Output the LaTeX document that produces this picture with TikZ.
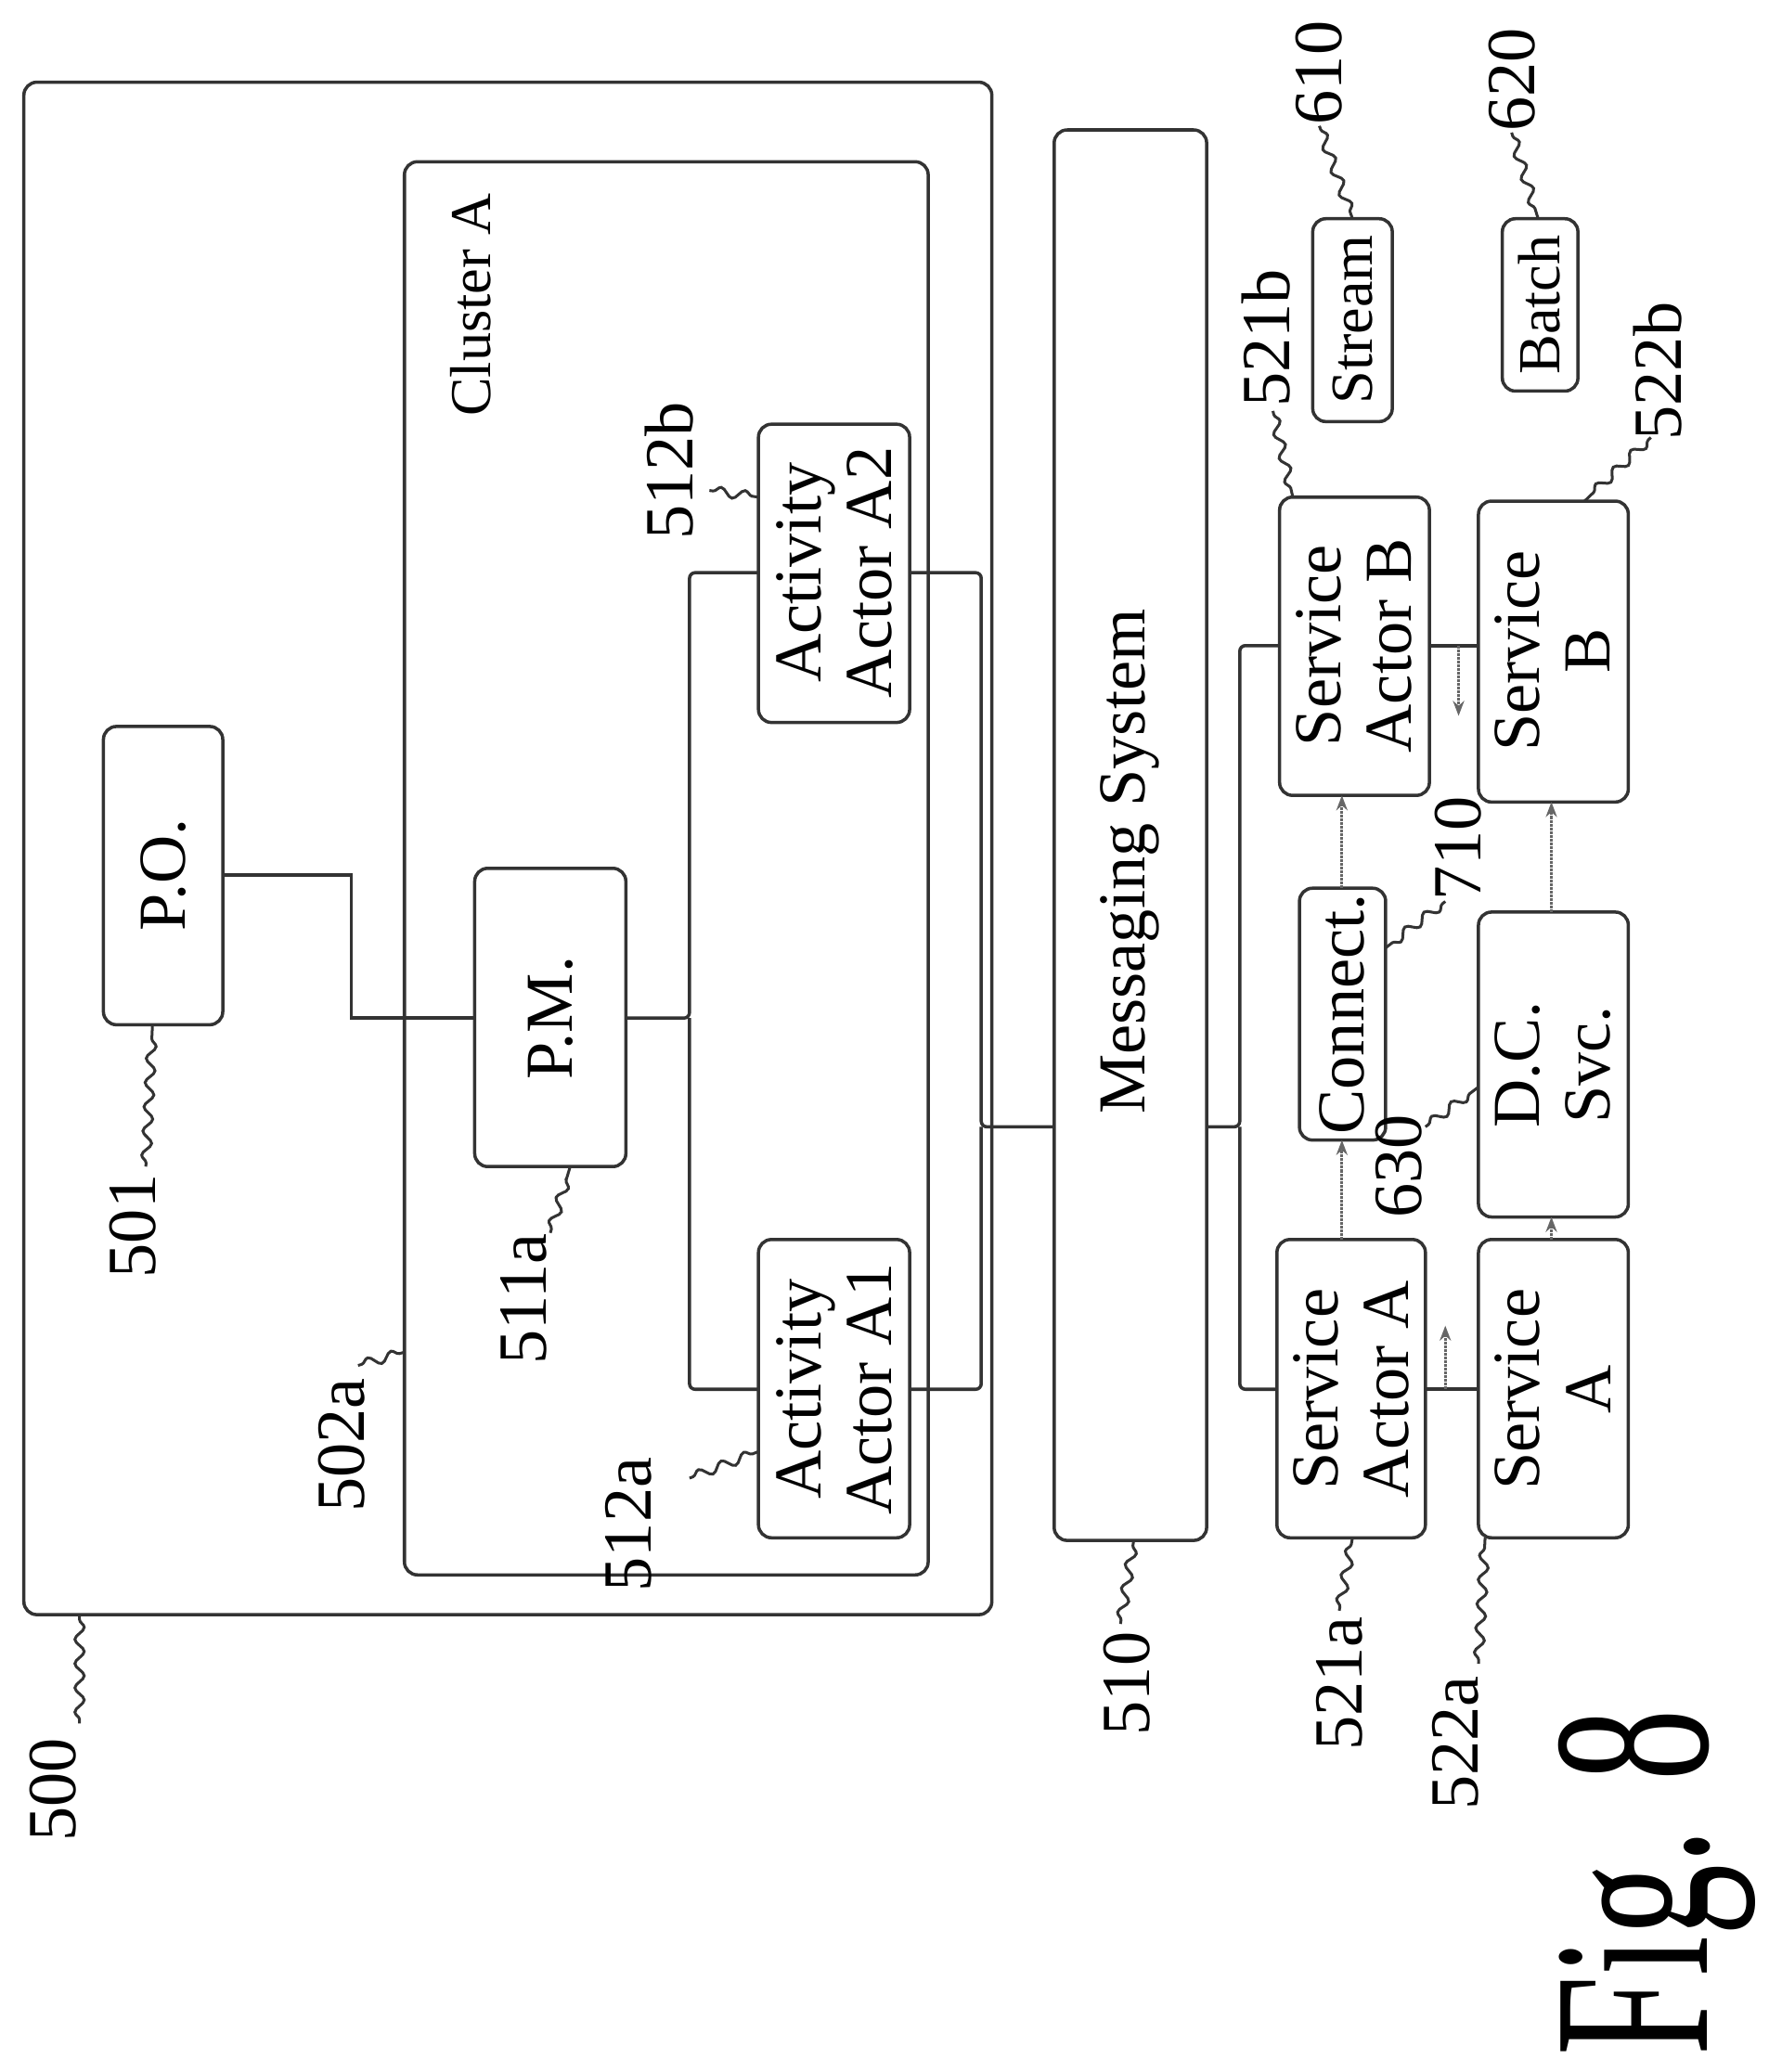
\documentclass[tikz,border=0pt]{standalone}
\usepackage{fontspec}
\setmainfont{Liberation Serif}
\usetikzlibrary{decorations.pathmorphing,arrows.meta}
\begin{document}
\begin{tikzpicture}[x=0.05cm,y=-0.05cm,
  bx/.style={draw=black!80,line width=3.5pt,rounded corners=14pt},
  ln/.style={draw=black!80,line width=3.5pt},
  dt/.style={draw=black!60,line width=3pt,densely dotted,-{Stealth[length=16pt]}},
  sq/.style={draw=black!80,line width=3pt,decorate,decoration={snake,amplitude=5pt,segment length=26pt,pre length=4pt,post length=4pt}},
  tx/.style={rotate=90,font=\fontsize{72}{76}\selectfont,align=center},
  num/.style={rotate=90,font=\fontsize{74}{74}\selectfont}]
\useasboundingbox (0,0) rectangle (1334,1563);
% boxes
\draw[bx] (18,62) rectangle (748,1218);
\draw[bx] (305,122) rectangle (700,1188);
\node[tx,font=\fontsize{62}{62}\selectfont] (cl) at (355,230) {Cluster A};
\draw[bx] (78,548) rectangle (168,773); \node[tx] (po) at (123,660) {P.O.};
\draw[bx] (358,655) rectangle (472,880); \node[tx] (pm) at (415,768) {P.M.};
\draw[bx] (572,320) rectangle (686,545); \node[tx] (a2) at (629,432) {Activity\\Actor A2};
\draw[bx] (572,935) rectangle (686,1160); \node[tx] (a1) at (629,1048) {Activity\\Actor A1};
\draw[bx] (795,98) rectangle (910,1162); \node[tx] (ms) at (852,650) {Messaging System};
\draw[bx] (965,375) rectangle (1078,600); \node[tx] (sab) at (1021,487) {Service\\Actor B};
\draw[bx] (1115,378) rectangle (1228,605); \node[tx] (sb) at (1171,491) {Service\\B};
\draw[bx] (980,670) rectangle (1045,860); \node[tx] (cn) at (1012,765) {Connect.};
\draw[bx] (1115,688) rectangle (1228,918); \node[tx] (dc) at (1171,803) {D.C.\\Svc.};
\draw[bx] (963,935) rectangle (1075,1160); \node[tx] (saa) at (1019,1048) {Service\\Actor A};
\draw[bx] (1115,935) rectangle (1228,1160); \node[tx] (sa) at (1171,1048) {Service\\A};
\draw[bx] (990,165) rectangle (1050,318); \node[tx,font=\fontsize{64}{64}\selectfont] (st) at (1020,241) {Stream};
\draw[bx] (1133,165) rectangle (1190,295); \node[tx,font=\fontsize{64}{64}\selectfont] (bt) at (1161,230) {Batch};
% connectors
\draw[ln] (168,660) -- (265,660) -- (265,768) -- (358,768);
\draw[ln,rounded corners=6pt] (472,768) -- (520,768) -- (520,432) -- (572,432);
\draw[ln,rounded corners=6pt] (520,768) -- (520,1048) -- (572,1048);
\draw[ln,rounded corners=6pt] (686,432) -- (740,432) -- (740,850) -- (795,850);
\draw[ln,rounded corners=6pt] (686,1048) -- (740,1048) -- (740,850);
\draw[ln,rounded corners=6pt] (910,850) -- (935,850) -- (935,487) -- (965,487);
\draw[ln,rounded corners=6pt] (935,850) -- (935,1048) -- (963,1048);
\draw[dt] (1012,935) -- (1012,860);
\draw[dt] (1012,670) -- (1012,600);
\draw[dt] (1170,935) -- (1170,918);
\draw[dt] (1170,688) -- (1170,605);
\draw[ln] (1075,1048) -- (1115,1048); \draw[dt] (1090,1048) -- (1090,1000);
\draw[ln] (1078,487) -- (1115,487); \draw[dt] (1100,487) -- (1100,540);
% labels
\node[num] (l500) at (40,1350) {500}; \draw[sq] (60,1300) -- (60,1218);
\node[num] (l501) at (100,925) {501}; \draw[sq] (110,880) -- (115,773);
\node[num] (l502) at (258,1090) {502a}; \draw[sq] (270,1030) -- (305,1020);
\node[num] (l511) at (395,980) {511a}; \draw[sq] (415,930) -- (430,880);
\node[num] (l512a) at (474,1150) {512a}; \draw[sq] (520,1115) -- (572,1095);
\node[num] (l512b) at (505,355) {512b}; \draw[sq] (535,370) -- (572,375);
\node[num] (l510) at (850,1270) {510}; \draw[sq] (845,1225) -- (855,1162);
\node[num] (l521a) at (1010,1270) {521a}; \draw[sq] (1010,1215) -- (1020,1160);
\node[num] (l522a) at (1098,1315) {522a}; \draw[sq] (1115,1255) -- (1120,1160);
\node[num] (l521b) at (955,255) {521b}; \draw[sq] (960,310) -- (975,375);
\node[num] (l522b) at (1250,280) {522b}; \draw[sq] (1245,330) -- (1195,378);
\node[num] (l610) at (995,55) {610}; \draw[sq] (995,95) -- (1020,165);
\node[num] (l620) at (1140,60) {620}; \draw[sq] (1140,100) -- (1160,165);
\node[num] (l630) at (1055,880) {630}; \draw[sq] (1075,850) -- (1115,820);
\node[num] (l710) at (1100,640) {710}; \draw[sq] (1090,680) -- (1045,715);
\node[rotate=90,font=\fontsize{240}{240}\selectfont,inner sep=0pt] (fig) at (1250,1420) {\scalebox{0.64}[1]{Fig. 8}};
\end{tikzpicture}
\end{document}
